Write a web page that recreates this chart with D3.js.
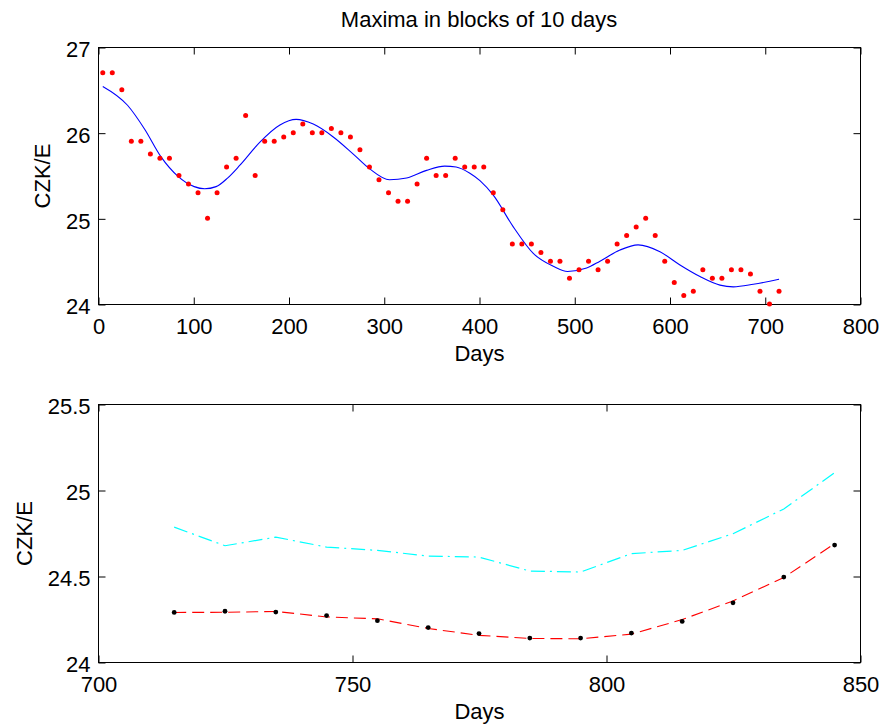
<!DOCTYPE html>
<html>
<head>
<meta charset="utf-8">
<script src="https://cdn.jsdelivr.net/npm/d3@7"></script>
<style>
  html, body { margin: 0; padding: 0; background: #fff; }
  svg { display: block; }
  text { font-family: "Liberation Sans", Arial, Helvetica, sans-serif; fill: #000; }
</style>
</head>
<body>
<svg id="chart" width="881" height="724"></svg>
<script>
// ---------- Data ----------
const titleText = "Maxima in blocks of 10 days";
const xLabel = "Days";
const yLabel = "CZK/E";

// Top panel: block maxima (every 10 days)
const blockDays = [5,15,25,35,45,55,65,75,85,95,105,115,125,135,145,155,165,175,185,195,
  205,215,225,235,245,255,265,275,285,295,305,315,325,335,345,355,365,375,385,395,
  405,415,425,435,445,455,465,475,485,495,505,515,525,535,545,555,565,575,585,595,
  605,615,625,635,645,655,665,675,685,695,705,715];
const blockMaxima = [26.7,26.7,26.5,25.9,25.9,25.75,25.7,25.7,25.5,25.4,25.3,25.0,25.3,25.6,25.7,26.2,25.5,25.9,25.9,25.95,
  26.0,26.1,26.0,26.0,26.05,26.0,25.95,25.8,25.6,25.45,25.3,25.2,25.2,25.4,25.7,25.5,25.5,25.7,25.6,25.6,
  25.6,25.3,25.1,24.7,24.7,24.7,24.6,24.5,24.5,24.3,24.4,24.5,24.4,24.5,24.7,24.8,24.9,25.0,24.8,24.5,
  24.25,24.1,24.15,24.4,24.3,24.3,24.4,24.4,24.35,24.15,24.0,24.15];

// Top panel: smooth fitted curve
const fitDays = [5,31,49,66,84,101,112,124,136,149,170,191,208,226,247,268,285,306,324,345,
  364,376,390,401,415,436,457,478,493,513,527,548,567,590,611,632,653,667,688,715];
const fitValues = [26.54,26.32,26.04,25.72,25.49,25.37,25.345,25.37,25.47,25.62,25.89,26.09,26.155,26.10,25.95,25.75,25.58,25.45,25.47,25.56,
  25.61,25.60,25.53,25.44,25.27,24.90,24.59,24.44,24.38,24.42,24.50,24.63,24.69,24.61,24.455,24.32,24.22,24.20,24.23,24.29];

// Bottom panel: forecast
const fcDays = [715,725,735,745,755,765,775,785,795,805,815,825,835,845];
const fcPoints = [24.288,24.295,24.29,24.27,24.24,24.20,24.165,24.139,24.139,24.168,24.236,24.344,24.494,24.68];
const fcRed = [24.288,24.289,24.294,24.262,24.251,24.195,24.155,24.137,24.135,24.162,24.247,24.355,24.491,24.688];
const fcCyan = [24.784,24.676,24.726,24.668,24.649,24.616,24.61,24.529,24.523,24.63,24.649,24.746,24.89,25.10];

const topXTicks = [0,100,200,300,400,500,600,700,800];
const topYTicks = [24,25,26,27];
const botXTicks = [700,750,800,850];
const botYTicks = [24,24.5,25,25.5];

// ---------- Layout ----------
const svg = d3.select("#chart");
const FS = 22;
const TICK = 7;

function panel(box, xDom, yDom, xTicks, yTicks, yFmt) {
  const g = svg.append("g").attr("transform", "translate(0.5,0.5)");
  const x = d3.scaleLinear().domain(xDom).range([box.left, box.right]);
  const y = d3.scaleLinear().domain(yDom).range([box.bottom, box.top]);

  g.append("g").attr("transform", `translate(0,${box.bottom})`)
    .call(d3.axisBottom(x).tickValues(xTicks).tickSize(-TICK).tickSizeOuter(0).tickPadding(14).tickFormat(d3.format("d")));
  g.append("g").attr("transform", `translate(0,${box.top})`)
    .call(d3.axisTop(x).tickValues(xTicks).tickSize(-TICK).tickSizeOuter(0).tickFormat(""));
  const yl = g.append("g").attr("transform", `translate(${box.left},0)`)
    .call(d3.axisLeft(y).tickValues(yTicks).tickSize(-TICK).tickSizeOuter(0).tickPadding(8).tickFormat(yFmt));
  yl.selectAll("text").attr("dy", "0.42em");
  g.append("g").attr("transform", `translate(${box.right},0)`)
    .call(d3.axisRight(y).tickValues(yTicks).tickSize(-TICK).tickSizeOuter(0).tickFormat(""));

  g.selectAll(".domain").remove();
  g.selectAll(".tick line").attr("stroke", "#000").attr("stroke-width", 1);
  g.selectAll(".tick text").attr("font-size", FS).attr("font-family", "Liberation Sans, Arial, sans-serif").attr("fill", "#000");

  g.append("rect")
    .attr("x", box.left).attr("y", box.top)
    .attr("width", box.right - box.left).attr("height", box.bottom - box.top)
    .attr("fill", "none").attr("stroke", "#000").attr("stroke-width", 1);

  g.append("text")
    .attr("x", (box.left + box.right) / 2).attr("y", box.bottom + 56)
    .attr("text-anchor", "middle").attr("font-size", FS).text(xLabel);

  g.append("text")
    .attr("transform", `translate(${box.yLabelX},${(box.top + box.bottom) / 2}) rotate(-90)`)
    .attr("text-anchor", "middle").attr("font-size", FS).text(yLabel);

  const plot = svg.append("g");
  return { x, y, plot };
}

// Top panel
const topBox = { left: 98, right: 860, top: 47, bottom: 304, yLabelX: 49 };
const P1 = panel(topBox, [0, 800], [24, 27], topXTicks, topYTicks, d3.format("d"));

svg.append("text")
  .attr("x", (topBox.left + topBox.right) / 2).attr("y", 27)
  .attr("text-anchor", "middle").attr("font-size", 22).text(titleText);

const fitData = fitDays.map((d, i) => [d, fitValues[i]]);
P1.plot.append("path")
  .datum(fitData)
  .attr("fill", "none").attr("stroke", "#0000ff").attr("stroke-width", 1.1)
  .attr("d", d3.line().x(d => P1.x(d[0])).y(d => P1.y(d[1])).curve(d3.curveMonotoneX));

P1.plot.selectAll("circle.max")
  .data(blockDays.map((d, i) => [d, blockMaxima[i]]))
  .enter().append("circle")
  .attr("class", "max")
  .attr("cx", d => P1.x(d[0])).attr("cy", d => P1.y(d[1]))
  .attr("r", 2.5).attr("fill", "#ff0000");

// Bottom panel
const botBox = { left: 98, right: 860, top: 404, bottom: 662, yLabelX: 31 };
const P2 = panel(botBox, [700, 850], [24, 25.5], botXTicks, botYTicks, d => (d % 1 === 0 ? d3.format("d")(d) : d3.format(".1f")(d)));

const lineGen = d3.line().x(d => P2.x(d[0])).y(d => P2.y(d[1]));

P2.plot.append("path")
  .datum(fcDays.map((d, i) => [d, fcCyan[i]]))
  .attr("fill", "none").attr("stroke", "#00ffff").attr("stroke-width", 1.2)
  .attr("stroke-dasharray", "14,5,2,5")
  .attr("d", lineGen);

P2.plot.append("path")
  .datum(fcDays.map((d, i) => [d, fcRed[i]]))
  .attr("fill", "none").attr("stroke", "#ff0000").attr("stroke-width", 1.1)
  .attr("stroke-dasharray", "12,6")
  .attr("d", lineGen);

P2.plot.selectAll("circle.fc")
  .data(fcDays.map((d, i) => [d, fcPoints[i]]))
  .enter().append("circle")
  .attr("class", "fc")
  .attr("cx", d => P2.x(d[0])).attr("cy", d => P2.y(d[1]))
  .attr("r", 2.4).attr("fill", "#000");
</script>
</body>
</html>
